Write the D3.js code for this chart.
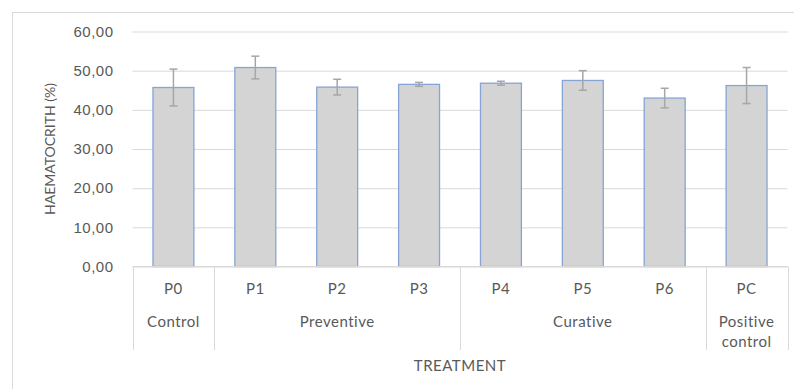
<!DOCTYPE html>
<html>
<head>
<meta charset="utf-8">
<script src="https://cdn.jsdelivr.net/npm/d3@7.9.0/dist/d3.min.js"></script>
<style>
  html, body { margin: 0; padding: 0; background: #fff; }
  svg { display: block; font-family: Lato, "Open Sans", sans-serif; }
</style>
</head>
<body>
<svg id="chart" width="794" height="389"></svg>
<script>
// data
const categories = ['P0', 'P1', 'P2', 'P3', 'P4', 'P5', 'P6', 'PC'];
const haematocrit = [45.7, 50.8, 45.8, 46.5, 46.8, 47.5, 43.0, 46.2];
const errors = [4.7, 2.9, 2.0, 0.5, 0.5, 2.5, 2.5, 4.6];
const groupNames = ['Control', 'Preventive', 'Curative', 'Positive control'];
const groupSizes = [1, 3, 3, 1];
const yTicks = [0, 10, 20, 30, 40, 50, 60];

const svg = d3.select('#chart');
const textColor = '#595959';
const gridColor = '#d9d9d9';

// chart area frame (runs off the right and bottom of the picture)
svg.append('rect')
    .attr('x', 12.5).attr('y', 12.5)
    .attr('width', 800).attr('height', 400)
    .attr('fill', 'none')
    .attr('stroke', gridColor);

const x = d3.scaleBand()
    .domain(categories)
    .range([132.5, 787.5])
    .paddingInner(0.5)
    .paddingOuter(0.25);

const y = d3.scaleLinear()
    .domain([0, 60])
    .range([266.5, 31.5]);

// gridlines + y labels
const yAxis = d3.axisLeft(y)
    .tickValues(yTicks)
    .tickSize(-(787.5 - 132.5))
    .tickPadding(19)
    .tickFormat(d => d3.format('.2f')(d).replace('.', ','));

const gy = svg.append('g')
    .attr('transform', 'translate(132.5,0)')
    .call(yAxis);
gy.select('.domain').remove();
gy.selectAll('.tick line').attr('stroke', gridColor);
gy.selectAll('.tick text')
    .attr('fill', textColor)
    .attr('font-size', 15)
    .attr('letter-spacing', 0.5);

// bars
svg.append('g')
    .selectAll('rect')
    .data(categories)
    .join('rect')
    .attr('x', d => x(d))
    .attr('y', (d, i) => y(haematocrit[i]))
    .attr('width', x.bandwidth())
    .attr('height', (d, i) => y(0) - y(haematocrit[i]))
    .attr('fill', '#d4d4d4')
    .attr('stroke', '#86a4d6')
    .attr('stroke-width', 1.3);

// error bars
const eb = svg.append('g')
    .attr('stroke', '#a6a6a6')
    .attr('stroke-width', 1.5);
categories.forEach((c, i) => {
    const cx = x(c) + x.bandwidth() / 2;
    const hi = y(haematocrit[i] + errors[i]);
    const lo = y(haematocrit[i] - errors[i]);
    eb.append('line').attr('x1', cx).attr('x2', cx).attr('y1', hi).attr('y2', lo);
    eb.append('line').attr('x1', cx - 4).attr('x2', cx + 4).attr('y1', hi).attr('y2', hi);
    eb.append('line').attr('x1', cx - 4).attr('x2', cx + 4).attr('y1', lo).attr('y2', lo);
});

// category axis (two levels)
svg.append('line')
    .attr('x1', 132.5).attr('x2', 787.5)
    .attr('y1', y(0)).attr('y2', y(0))
    .attr('stroke', gridColor);

svg.append('g')
    .selectAll('text')
    .data(categories)
    .join('text')
    .attr('x', d => x(d) + x.bandwidth() / 2)
    .attr('y', 294)
    .attr('text-anchor', 'middle')
    .attr('fill', textColor)
    .attr('font-size', 15)
    .attr('letter-spacing', 0.5)
    .text(d => d);

const step = x.step();
let start = 0;
const bounds = [0];
groupNames.forEach((g, i) => {
    const x0 = 132.5 + start * step;
    const x1 = 132.5 + (start + groupSizes[i]) * step;
    const lines = g === 'Positive control' ? ['Positive', 'control'] : [g];
    const t = svg.append('text')
        .attr('x', (x0 + x1) / 2)
        .attr('text-anchor', 'middle')
        .attr('fill', textColor)
        .attr('font-size', 15)
        .attr('letter-spacing', 0.5);
    lines.forEach((l, j) => {
        t.append('tspan')
            .attr('x', (x0 + x1) / 2)
            .attr('y', 327 + j * 20)
            .text(l);
    });
    start += groupSizes[i];
    bounds.push(start);
});

svg.append('g')
    .selectAll('line')
    .data(bounds)
    .join('line')
    .attr('x1', d => Math.round(132.5 + d * step) + 0.5)
    .attr('x2', d => Math.round(132.5 + d * step) + 0.5)
    .attr('y1', y(0))
    .attr('y2', 350)
    .attr('stroke', gridColor);

// axis titles
svg.append('text')
    .attr('x', 460)
    .attr('y', 371)
    .attr('text-anchor', 'middle')
    .attr('fill', textColor)
    .attr('font-size', 15)
    .attr('letter-spacing', 0.5)
    .text('TREATMENT');

svg.append('text')
    .attr('transform', 'translate(55,149) rotate(-90)')
    .attr('text-anchor', 'middle')
    .attr('fill', textColor)
    .attr('font-size', 14)
    .text('HAEMATOCRITH (%)');
</script>
</body>
</html>
